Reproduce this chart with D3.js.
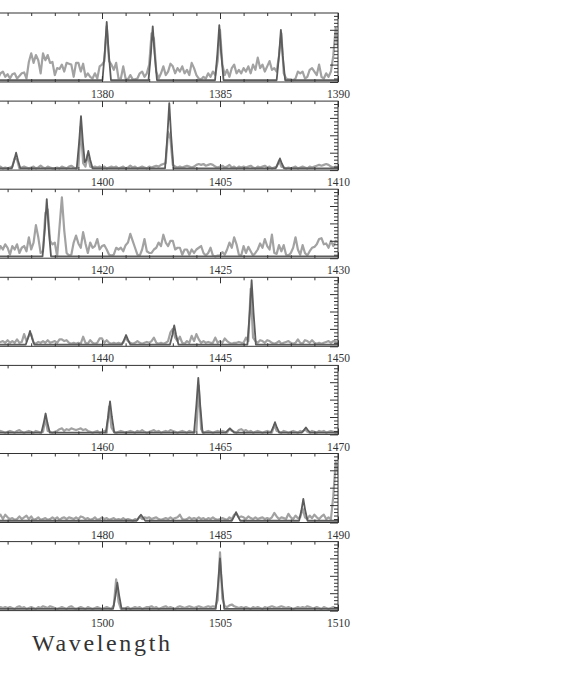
<!DOCTYPE html>
<html>
<head>
<meta charset="utf-8">
<script src="https://cdn.jsdelivr.net/npm/d3@7"></script>
<style>
  body { margin: 0; background: #fff; }
</style>
</head>
<body>
<div id="chart"></div>
<script>
"use strict"

/* Layout (pixels) */
let svgWidth = 576;
let svgHeight = 680;
let plotRight = 338;      /* right frame edge, the left edge is off the page */
let pxPerUnit = 23.6;     /* pixels per wavelength unit */
let firstBottom = 82;
let panelStep = 88.1;
let panelHeight = 69;
let pxPerFlux = 17.4;

/* Data: one panel per 20 units of wavelength */
let panelStarts = [1370, 1390, 1410, 1430, 1450, 1470, 1490];
let panelSpan = 20;
let yMajorTicks = [0, 1, 2, 3];
let yMinorTicks = [0.2, 0.4, 0.6, 0.8, 1.2, 1.4, 1.6, 1.8, 2.2, 2.4, 2.6, 2.8, 3.2, 3.4, 3.6, 3.8];
let axisTitle = "Wavelength";

/* observed spectrum: sampled every 0.1 from (panel start + 5) */
let obsOffset = 5;
let obsStep = 0.1;

let observed1 = [
    0.3, 0.5, 0.2, 0.4, 0.3, 0.6, 0.2, 0.5, 0.6, 0.3,
    0.45, 0.2, 0.45, 0.5, 0.2, 0.35, 0.5, 0.55, 0.2, 1.15,
    1.65, 1.1, 1.55, 1.25, 0.5, 1.65, 1.25, 1.55, 1.1, 1.15,
    0.4, 0.8, 0.75, 1.0, 0.6, 1.1, 1.05, 1.0, 0.3, 1.1,
    1.1, 0.6, 1.05, 0.3, 0.5, 0.3, 0.2, 0.5, 0.2, 0.9,
    1.0, 1.2, 3.2, 1.2, 1.0, 0.7, 1.1, 0.2, 0.2, 0.9,
    0.2, 0.15, 0.4, 0.15, 0.15, 0.2, 0.5, 0.6, 0.3, 0.5,
    1.0, 2.8, 2.5, 0.6, 0.2, 0.5, 0.9, 0.4, 0.6, 1.05,
    0.9, 0.5, 0.8, 0.6, 0.9, 0.5, 0.7, 0.4, 1.1, 0.8,
    0.4, 0.2, 0.15, 0.3, 0.2, 0.5, 0.3, 0.6, 0.4, 1.2,
    3.0, 1.0, 0.4, 0.7, 0.3, 0.8, 1.0, 0.5, 0.7, 0.5,
    0.8, 0.6, 0.9, 0.5, 1.0, 0.7, 1.4, 0.8, 1.0, 0.6,
    0.9, 1.2, 0.7, 0.8, 0.6, 1.5, 2.8, 0.5, 0.2, 0.15,
    0.15, 0.1, 0.2, 0.6, 0.5, 0.6, 0.2, 0.3, 0.7, 0.8,
    0.6, 0.4, 1.0, 0.3, 0.2, 0.5, 0.3, 0.6, 1.5, 3.1,
    2.0
];
let observed2 = [
    0.15, 0.2, 0.1, 0.15, 0.2, 0.1, 0.15, 0.2, 0.1, 0.15,
    0.1, 0.15, 0.2, 0.7, 0.6, 0.1, 0.15, 0.2, 0.15, 0.1,
    0.15, 0.2, 0.1, 0.15, 0.25, 0.15, 0.1, 0.2, 0.15, 0.1,
    0.1, 0.15, 0.1, 0.2, 0.15, 0.1, 0.2, 0.25, 0.15, 0.1,
    0.15, 2.5, 0.4, 0.2, 0.9, 0.2, 0.15, 0.2, 0.15, 0.2,
    0.15, 0.2, 0.1, 0.15, 0.2, 0.15, 0.2, 0.1, 0.15, 0.2,
    0.1, 0.15, 0.25, 0.15, 0.2, 0.1, 0.15, 0.2, 0.15, 0.1,
    0.2, 0.15, 0.2, 0.25, 0.2, 0.3, 0.35, 0.4, 2.2, 1.8,
    0.3, 0.2, 0.15, 0.2, 0.15, 0.2, 0.25, 0.2, 0.15, 0.2,
    0.3, 0.35, 0.3, 0.35, 0.25, 0.3, 0.35, 0.3, 0.2, 0.15,
    0.2, 0.25, 0.15, 0.2, 0.3, 0.15, 0.2, 0.1, 0.2, 0.15,
    0.2, 0.15, 0.2, 0.25, 0.15, 0.1, 0.2, 0.15, 0.2, 0.25,
    0.15, 0.2, 0.1, 0.15, 0.2, 0.55, 0.2, 0.15, 0.1, 0.15,
    0.1, 0.15, 0.2, 0.1, 0.15, 0.2, 0.15, 0.1, 0.2, 0.15,
    0.2, 0.25, 0.3, 0.25, 0.3, 0.35, 0.3, 0.2, 0.15, 0.2,
    0.15
];
let observed3 = [
    0.4, 0.6, 0.3, 0.7, 0.5, 0.6, 0.3, 0.7, 0.5, 0.8,
    0.6, 0.2, 0.7, 0.5, 0.8, 0.3, 0.6, 0.7, 0.4, 1.2,
    0.5, 0.9, 1.9, 1.2, 0.3, 0.4, 2.6, 2.8, 1.0, 0.8,
    0.9, 0.1, 1.8, 3.5, 1.6, 0.3, 0.15, 0.2, 0.9, 1.3,
    0.85, 0.6, 1.5, 0.85, 0.3, 0.9, 0.6, 0.7, 1.1, 0.5,
    0.7, 0.75, 0.5, 0.2, 0.15, 0.2, 0.6, 0.5, 0.6, 0.4,
    0.75, 0.9, 1.4, 1.0, 0.6, 0.2, 0.15, 0.5, 1.1, 0.4,
    0.3, 0.3, 0.5, 0.6, 0.9, 0.7, 1.35, 0.9, 0.7, 1.0,
    1.0, 0.5, 0.6, 0.6, 0.2, 0.5, 0.5, 0.2, 0.5, 0.3,
    0.5, 0.6, 0.7, 0.3, 0.15, 0.3, 0.6, 0.15, 0.1, 0.15,
    0.15, 0.35, 0.2, 0.5, 0.9, 0.6, 1.2, 0.8, 0.2, 0.15,
    0.7, 0.3, 0.65, 0.4, 0.15, 0.3, 0.5, 0.85, 0.6, 1.1,
    0.7, 0.5, 1.35, 0.3, 0.25, 0.75, 0.4, 0.75, 0.2, 0.15,
    0.3, 0.6, 1.2, 0.5, 0.2, 0.75, 0.3, 0.15, 0.4, 0.6,
    0.65, 0.8, 1.1, 1.15, 0.8, 0.85, 0.6, 1.0, 0.7, 1.0,
    0.9
];
let observed4 = [
    0.2, 0.3, 0.2, 0.35, 0.2, 0.3, 0.2, 0.25, 0.3, 0.2,
    0.35, 0.2, 0.3, 0.2, 0.4, 0.2, 0.25, 0.7, 0.3, 0.6,
    0.7, 0.2, 0.15, 0.25, 0.2, 0.3, 0.2, 0.35, 0.2, 0.25,
    0.3, 0.2, 0.4, 0.4, 0.3, 0.35, 0.2, 0.15, 0.2, 0.15,
    0.2, 0.15, 0.55, 0.2, 0.15, 0.35, 0.2, 0.15, 0.2, 0.45,
    0.45, 0.2, 0.35, 0.2, 0.15, 0.2, 0.15, 0.2, 0.15, 0.2,
    0.5, 0.3, 0.2, 0.15, 0.2, 0.3, 0.2, 0.15, 0.2, 0.25,
    0.2, 0.3, 0.5, 0.2, 0.15, 0.2, 0.15, 0.2, 0.3, 0.8,
    1.0, 0.5, 0.3, 0.55, 0.2, 0.15, 0.3, 0.2, 0.6, 0.3,
    0.7, 0.4, 0.2, 0.3, 0.2, 0.25, 0.2, 0.2, 0.5, 0.2,
    0.3, 0.2, 0.45, 0.3, 0.2, 0.15, 0.2, 0.2, 0.25, 0.2,
    0.2, 0.5, 0.3, 3.3, 0.5, 0.3, 0.2, 0.35, 0.3, 0.2,
    0.35, 0.3, 0.2, 0.15, 0.2, 0.3, 0.15, 0.2, 0.25, 0.3,
    0.2, 0.15, 0.2, 0.4, 0.2, 0.15, 0.35, 0.3, 0.2, 0.35,
    0.2, 0.15, 0.2, 0.15, 0.2, 0.25, 0.3, 0.2, 0.3, 0.25,
    0.2
];
let observed5 = [
    0.15, 0.1, 0.15, 0.2, 0.1, 0.15, 0.1, 0.2, 0.15, 0.1,
    0.15, 0.2, 0.15, 0.1, 0.2, 0.25, 0.15, 0.1, 0.15, 0.2,
    0.15, 0.1, 0.2, 0.15, 0.1, 0.15, 0.9, 0.2, 0.15, 0.1,
    0.15, 0.2, 0.3, 0.35, 0.2, 0.3, 0.25, 0.35, 0.3, 0.25,
    0.3, 0.35, 0.25, 0.3, 0.2, 0.15, 0.1, 0.15, 0.2, 0.1,
    0.15, 0.2, 0.1, 1.6, 0.4, 0.15, 0.1, 0.15, 0.2, 0.15,
    0.1, 0.15, 0.2, 0.15, 0.1, 0.2, 0.15, 0.25, 0.15, 0.1,
    0.15, 0.2, 0.25, 0.15, 0.2, 0.1, 0.15, 0.2, 0.15, 0.25,
    0.2, 0.15, 0.1, 0.15, 0.2, 0.15, 0.1, 0.2, 0.15, 0.1,
    0.2, 2.8, 0.3, 0.1, 0.15, 0.2, 0.15, 0.1, 0.15, 0.2,
    0.15, 0.2, 0.15, 0.1, 0.3, 0.2, 0.15, 0.1, 0.25, 0.3,
    0.2, 0.25, 0.15, 0.2, 0.1, 0.15, 0.2, 0.15, 0.1, 0.15,
    0.2, 0.15, 0.1, 0.55, 0.2, 0.15, 0.1, 0.2, 0.15, 0.1,
    0.15, 0.2, 0.15, 0.1, 0.2, 0.15, 0.3, 0.15, 0.1, 0.2,
    0.15, 0.1, 0.2, 0.15, 0.2, 0.1, 0.15, 0.2, 0.15, 0.1,
    0.15
];
let observed6 = [
    0.3, 0.2, 0.35, 0.25, 0.3, 0.2, 0.3, 0.45, 0.2, 0.45,
    0.3, 0.2, 0.25, 0.15, 0.2, 0.35, 0.2, 0.3, 0.4, 0.2,
    0.35, 0.15, 0.2, 0.3, 0.15, 0.2, 0.25, 0.15, 0.2, 0.3,
    0.2, 0.3, 0.15, 0.25, 0.3, 0.2, 0.3, 0.25, 0.2, 0.3,
    0.2, 0.35, 0.3, 0.2, 0.25, 0.15, 0.2, 0.3, 0.15, 0.2,
    0.3, 0.2, 0.25, 0.15, 0.2, 0.25, 0.15, 0.2, 0.15, 0.25,
    0.15, 0.2, 0.15, 0.1, 0.2, 0.15, 0.35, 0.2, 0.3, 0.25,
    0.3, 0.2, 0.25, 0.3, 0.2, 0.15, 0.2, 0.25, 0.2, 0.3,
    0.2, 0.25, 0.3, 0.45, 0.2, 0.15, 0.2, 0.3, 0.2, 0.25,
    0.2, 0.3, 0.2, 0.25, 0.15, 0.25, 0.2, 0.3, 0.2, 0.15,
    0.2, 0.25, 0.2, 0.15, 0.3, 0.2, 0.45, 0.5, 0.3, 0.35,
    0.3, 0.2, 0.35, 0.25, 0.2, 0.3, 0.2, 0.25, 0.3, 0.2,
    0.25, 0.2, 0.3, 0.55, 0.35, 0.2, 0.3, 0.25, 0.2, 0.5,
    0.3, 0.2, 0.4, 0.25, 0.3, 0.8, 0.3, 0.2, 0.4, 0.25,
    0.45, 0.3, 0.2, 0.35, 0.45, 0.2, 0.3, 0.2, 1.5, 3.5,
    2.8
];
let observed7 = [
    0.15, 0.2, 0.1, 0.15, 0.2, 0.15, 0.1, 0.2, 0.15, 0.2,
    0.15, 0.2, 0.15, 0.1, 0.2, 0.25, 0.15, 0.2, 0.1, 0.15,
    0.2, 0.15, 0.1, 0.2, 0.15, 0.25, 0.2, 0.15, 0.25, 0.2,
    0.15, 0.1, 0.15, 0.2, 0.15, 0.1, 0.2, 0.25, 0.15, 0.1,
    0.15, 0.2, 0.15, 0.1, 0.2, 0.15, 0.1, 0.15, 0.2, 0.15,
    0.1, 0.15, 0.2, 0.15, 0.1, 0.3, 1.8, 0.5, 0.1, 0.15,
    0.15, 0.2, 0.1, 0.15, 0.2, 0.15, 0.2, 0.1, 0.15, 0.2,
    0.2, 0.25, 0.15, 0.2, 0.1, 0.15, 0.2, 0.25, 0.15, 0.2,
    0.15, 0.1, 0.2, 0.25, 0.2, 0.15, 0.2, 0.25, 0.2, 0.15,
    0.2, 0.25, 0.2, 0.15, 0.2, 0.25, 0.2, 0.25, 0.2, 0.6,
    3.35, 0.7, 0.25, 0.2, 0.3, 0.35, 0.25, 0.2, 0.15, 0.2,
    0.15, 0.2, 0.15, 0.1, 0.2, 0.15, 0.2, 0.15, 0.1, 0.2,
    0.15, 0.2, 0.25, 0.2, 0.15, 0.2, 0.25, 0.2, 0.15, 0.2,
    0.15, 0.1, 0.15, 0.2, 0.15, 0.2, 0.15, 0.25, 0.2, 0.15,
    0.15, 0.2, 0.15, 0.1, 0.2, 0.15, 0.1, 0.15, 0.2, 0.15,
    0.15
];

/* fitted lines: [wavelength, flux] */
let model1 = [[1375, 0.1],
    [1380.02, 0.1], [1380.12, 1.75], [1380.2, 3.45], [1380.28, 1.75], [1380.38, 0.1],
    [1381.97, 0.1], [1382.07, 1.6], [1382.15, 3.2], [1382.23, 1.6], [1382.33, 0.1],
    [1384.79, 0.1], [1384.89, 1.65], [1384.97, 3.27], [1385.05, 1.65], [1385.15, 0.1],
    [1387.4, 0.1], [1387.5, 1.5], [1387.58, 3.0], [1387.66, 1.5], [1387.76, 0.1],
    [1390, 0.1]];
let model2 = [[1395, 0.1],
    [1396.18, 0.1], [1396.28, 0.55], [1396.36, 1.0], [1396.44, 0.55], [1396.54, 0.1],
    [1398.93, 0.1], [1399.03, 1.6], [1399.11, 3.1], [1399.19, 1.6], [1399.27, 0.45],
    [1399.34, 0.6], [1399.42, 1.1], [1399.5, 0.6], [1399.6, 0.1],
    [1402.67, 0.1], [1402.77, 1.95], [1402.85, 3.85], [1402.93, 1.95], [1403.03, 0.1],
    [1407.36, 0.1], [1407.46, 0.38], [1407.54, 0.67], [1407.62, 0.38], [1407.72, 0.1],
    [1410, 0.1]];
let model3 = [[1415, 0.1],
    [1417.48, 0.1], [1417.58, 1.7], [1417.66, 3.4], [1417.74, 1.7], [1417.84, 0.1],
    [1430, 0.1]];
let model4 = [[1435, 0.1],
    [1436.77, 0.1], [1436.87, 0.5], [1436.95, 0.88], [1437.03, 0.5], [1437.13, 0.1],
    [1440.84, 0.1], [1440.94, 0.38], [1441.02, 0.65], [1441.1, 0.38], [1441.2, 0.1],
    [1442.88, 0.1], [1442.98, 0.65], [1443.06, 1.2], [1443.14, 0.65], [1443.24, 0.1],
    [1446.16, 0.1], [1446.26, 1.95], [1446.34, 3.8], [1446.42, 1.95], [1446.52, 0.1],
    [1450, 0.1]];
let model5 = [[1455, 0.1],
    [1457.43, 0.1], [1457.53, 0.65], [1457.61, 1.2], [1457.69, 0.65], [1457.79, 0.1],
    [1460.16, 0.1], [1460.26, 1.0], [1460.34, 1.9], [1460.42, 1.0], [1460.52, 0.1],
    [1463.9, 0.1], [1464.0, 1.7], [1464.08, 3.25], [1464.16, 1.7], [1464.26, 0.1],
    [1465.24, 0.1], [1465.34, 0.25], [1465.42, 0.35], [1465.5, 0.25], [1465.6, 0.1],
    [1467.15, 0.1], [1467.25, 0.4], [1467.33, 0.7], [1467.41, 0.4], [1467.51, 0.1],
    [1468.46, 0.1], [1468.56, 0.25], [1468.64, 0.4], [1468.72, 0.25], [1468.82, 0.1],
    [1470, 0.1]];
let model6 = [[1475, 0.1],
    [1481.47, 0.1], [1481.57, 0.3], [1481.65, 0.45], [1481.73, 0.3], [1481.83, 0.1],
    [1485.5, 0.1], [1485.6, 0.35], [1485.68, 0.6], [1485.76, 0.35], [1485.86, 0.1],
    [1488.35, 0.1], [1488.45, 0.7], [1488.53, 1.35], [1488.61, 0.7], [1488.71, 0.1],
    [1490, 0.1]];
let model7 = [[1495, 0.1],
    [1500.47, 0.1], [1500.57, 0.85], [1500.65, 1.6], [1500.73, 0.85], [1500.83, 0.1],
    [1504.82, 0.1], [1504.92, 1.55], [1505.0, 3.0], [1505.08, 1.55], [1505.18, 0.1],
    [1510, 0.1]];

let observedList = [observed1, observed2, observed3, observed4, observed5, observed6, observed7];
let modelList = [model1, model2, model3, model4, model5, model6, model7];

/* colours */
let lightGray = "#a2a2a2";
let darkGray = "#5c5c5c";
let inkColor = "#333";

let svg = d3.select("#chart")
    .append("svg")
    .attr("width", svgWidth)
    .attr("height", svgHeight);

svg.append("rect")
    .attr("width", svgWidth)
    .attr("height", svgHeight)
    .attr("fill", "#fff");

let defs = svg.append("defs");

panelStarts.forEach(function (lo, p) {
    let bottom = firstBottom + p * panelStep;
    let top = bottom - panelHeight;

    let xScale = d3.scaleLinear()
        .domain([lo, lo + panelSpan])
        .range([plotRight - panelSpan * pxPerUnit, plotRight]);

    let yScale = d3.scaleLinear()
        .domain([0, panelHeight / pxPerFlux])
        .range([bottom, top]);

    /* clip to the frame */
    defs.append("clipPath")
        .attr("id", "clip" + p)
        .append("rect")
        .attr("x", xScale.range()[0])
        .attr("y", top)
        .attr("width", panelSpan * pxPerUnit)
        .attr("height", panelHeight);

    let panel = svg.append("g");
    let plot = panel.append("g").attr("clip-path", "url(#clip" + p + ")");

    /* observed spectrum */
    let obsLine = d3.line()
        .x(function (v, i) { return xScale(lo + obsOffset + i * obsStep); })
        .y(function (v) { return yScale(v); });

    plot.append("path")
        .datum(observedList[p])
        .attr("d", obsLine)
        .attr("fill", "none")
        .attr("stroke", lightGray)
        .attr("stroke-width", 2.2)
        .attr("stroke-linejoin", "round");

    /* fitted model */
    let modelLine = d3.line()
        .x(function (d) { return xScale(d[0]); })
        .y(function (d) { return yScale(d[1]); });

    plot.append("path")
        .datum(modelList[p])
        .attr("d", modelLine)
        .attr("fill", "none")
        .attr("stroke", darkGray)
        .attr("stroke-width", 1.8)
        .attr("stroke-linejoin", "round");

    /* frame */
    panel.append("rect")
        .attr("x", xScale.range()[0])
        .attr("y", top)
        .attr("width", panelSpan * pxPerUnit)
        .attr("height", panelHeight)
        .attr("fill", "none")
        .attr("stroke", inkColor)
        .attr("stroke-width", 1);

    /* x ticks, top and bottom, inward */
    let xMinor = xScale.ticks(panelSpan);
    let xMajor = xScale.ticks(4);
    /* only label the ticks that fall on the page */
    let xLabelled = xMajor.filter(function (v) { return xScale(v) > 0; });

    panel.append("g")
        .attr("transform", "translate(0," + bottom + ")")
        .call(d3.axisBottom(xScale).tickValues(xMinor).tickSize(-3).tickSizeOuter(0).tickFormat(""));
    panel.append("g")
        .attr("transform", "translate(0," + top + ")")
        .call(d3.axisTop(xScale).tickValues(xMinor).tickSize(-3).tickSizeOuter(0).tickFormat(""));
    panel.append("g")
        .attr("transform", "translate(0," + top + ")")
        .call(d3.axisTop(xScale).tickValues(xMajor).tickSize(-6).tickSizeOuter(0).tickFormat(""));

    /* labelled bottom axis */
    panel.append("g")
        .attr("class", "xaxis")
        .attr("transform", "translate(0," + bottom + ")")
        .call(d3.axisBottom(xScale).tickValues(xLabelled).tickSize(-6).tickSizeOuter(0)
            .tickPadding(8).tickFormat(d3.format("d")));

    /* right axis, ticks point inward */
    panel.append("g")
        .attr("transform", "translate(" + plotRight + ",0)")
        .call(d3.axisLeft(yScale).tickValues(yMinorTicks).tickSize(4).tickSizeOuter(0).tickFormat(""));
    panel.append("g")
        .attr("transform", "translate(" + plotRight + ",0)")
        .call(d3.axisLeft(yScale).tickValues(yMajorTicks).tickSize(8).tickSizeOuter(0).tickFormat(""));
});

/* style all axes like the frame */
svg.selectAll(".domain").remove();
svg.selectAll(".tick line")
    .attr("stroke", inkColor)
    .attr("stroke-width", 1);
svg.selectAll(".xaxis text")
    .attr("fill", inkColor)
    .attr("font-family", "'Liberation Serif', 'Times New Roman', serif")
    .attr("font-size", 11.5);

/* axis title */
svg.append("text")
    .attr("x", 32)
    .attr("y", 650.5)
    .attr("font-family", "'Liberation Serif', 'Times New Roman', serif")
    .attr("font-size", 24)
    .attr("fill", inkColor)
    .attr("textLength", 138)
    .attr("lengthAdjust", "spacing")
    .text(axisTitle);
</script>
</body>
</html>
